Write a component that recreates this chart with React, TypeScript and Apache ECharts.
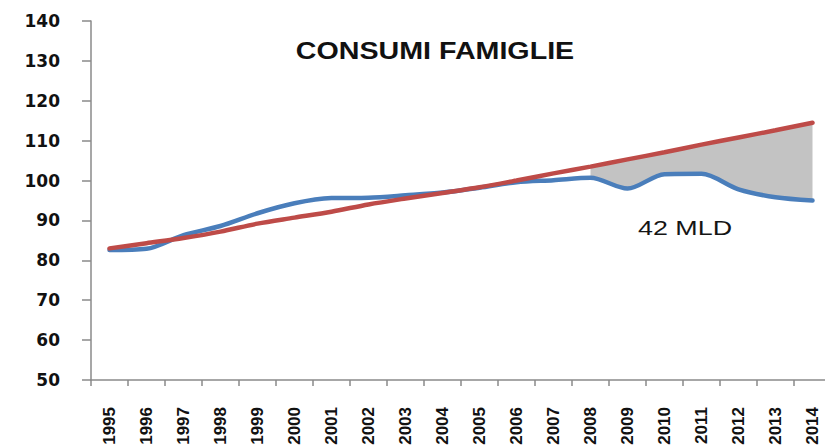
import React, { useEffect, useRef } from "react";
import * as echarts from "echarts";

const years = [
  "1995", "1996", "1997", "1998", "1999", "2000", "2001", "2002", "2003", "2004",
  "2005", "2006", "2007", "2008", "2009", "2010", "2011", "2012", "2013", "2014",
];

// Consumi effettivi (blu)
const consumi = [
  82.6, 82.9, 86.3, 88.6, 91.8, 94.3, 95.6, 95.7, 96.3, 97.0,
  98.2, 99.6, 100.1, 100.7, 98.0, 101.6, 101.7, 97.8, 95.8, 95.0,
];

// Trend (rosso)
const trend = [
  83.0, 84.3, 85.6, 87.2, 89.2, 90.7, 92.2, 94.0, 95.5, 96.9,
  98.3, 100.0, 101.8, 103.5, 105.3, 107.1, 109.0, 110.8, 112.6, 114.5,
];

// first year from which the shaded gap is drawn
const gapStartYear = "2008";

const yMin = 50;
const yMax = 140;
const yStep = 10;

const titleText = "CONSUMI FAMIGLIE";
const gapLabel = "42 MLD";

export default function App() {
  const ref = useRef<HTMLDivElement | null>(null);

  useEffect(() => {
    if (!ref.current) return;
    const chart = echarts.init(ref.current, null, { renderer: "svg" });
    const startIdx = years.indexOf(gapStartYear);
    const gap = trend.map((t, i) => (i >= startIdx ? +(t - consumi[i]).toFixed(2) : "-"));
    const smooth = 0.3;
    const axisColor = "#8a8a8a";

    chart.setOption({
      animation: false,
      grid: {
        left: 91,
        top: 21,
        width: 740,
        height: 359,
        containLabel: false,
        outerBoundsMode: "none",
      },
      xAxis: {
        type: "category",
        data: years,
        boundaryGap: true,
        axisLine: { lineStyle: { color: axisColor, width: 1.5 } },
        axisTick: { show: true, length: 6, lineStyle: { color: axisColor, width: 1.5 } },
        axisLabel: {
          interval: 0,
          rotate: 90,
          margin: 27,
          fontFamily: "Liberation Sans",
          fontWeight: "bold",
          fontSize: 17,
          lineHeight: 13,
          color: "#111",
        },
        splitLine: { show: false },
      },
      yAxis: {
        type: "value",
        min: yMin,
        max: yMax,
        interval: yStep,
        axisLine: { show: true, lineStyle: { color: axisColor, width: 1.5 } },
        axisTick: { show: true, length: 9, lineStyle: { color: axisColor, width: 1.5 } },
        axisLabel: {
          margin: 31,
          fontFamily: "DejaVu Sans",
          fontWeight: "bold",
          fontSize: 17,
          color: "#111",
        },
        splitLine: { show: false },
      },
      series: [
        {
          name: "base",
          type: "line",
          stack: "gap",
          data: consumi,
          smooth,
          symbol: "none",
          lineStyle: { opacity: 0 },
          z: 1,
          silent: true,
        },
        {
          name: "gap",
          type: "line",
          stack: "gap",
          data: gap,
          smooth,
          symbol: "none",
          lineStyle: { opacity: 0 },
          areaStyle: { color: "#c3c3c3", opacity: 1 },
          z: 1,
          silent: true,
        },
        {
          name: "Consumi",
          type: "line",
          data: consumi,
          smooth,
          symbol: "none",
          lineStyle: { color: "#4a7ebb", width: 4.5, cap: "round" },
          z: 3,
        },
        {
          name: "Trend",
          type: "line",
          data: trend,
          smooth,
          symbol: "none",
          lineStyle: { color: "#be4b48", width: 4.5, cap: "round" },
          z: 4,
        },
      ],
      graphic: [
        {
          type: "text",
          x: 435,
          y: 51,
          scaleX: 1.245,
          style: {
            text: titleText,
            fontFamily: "Liberation Sans",
            fontWeight: "bold",
            fontSize: 23,
            fill: "#111",
            textAlign: "center",
            textVerticalAlign: "middle",
          },
        },
        {
          type: "text",
          x: 685,
          y: 228,
          scaleX: 1.28,
          style: {
            text: gapLabel,
            fontFamily: "Liberation Sans",
            fontSize: 21,
            fill: "#151515",
            textAlign: "center",
            textVerticalAlign: "middle",
          },
        },
      ],
    });

    return () => {
      chart.dispose();
    };
  }, []);

  return (
    <div
      ref={ref}
      style={{ position: "fixed", left: 0, top: 0, width: 825, height: 447, background: "#fff" }}
    />
  );
}
